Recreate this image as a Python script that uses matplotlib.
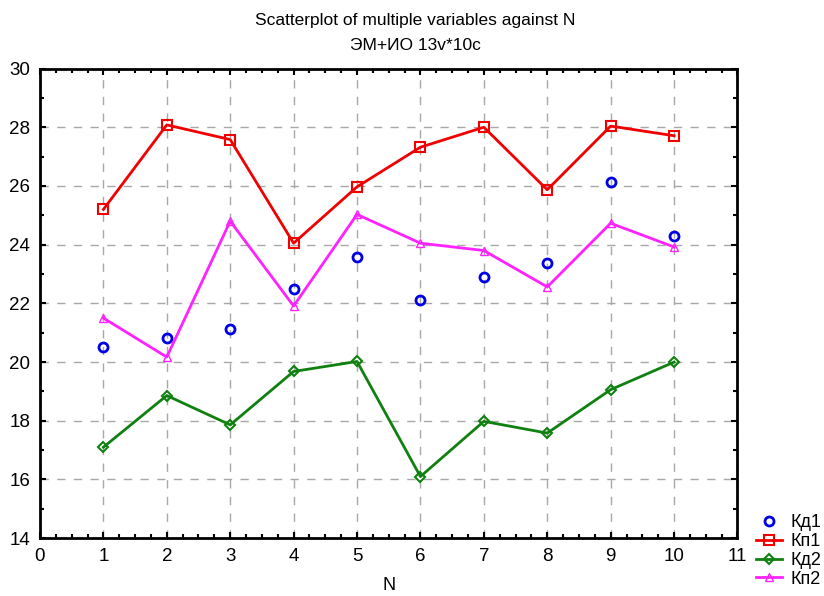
import numpy as np
import matplotlib.pyplot as plt
from matplotlib.ticker import MultipleLocator

plt.rcParams['font.family'] = ['Liberation Sans', 'DejaVu Sans']

# Datos
n = [1, 2, 3, 4, 5, 6, 7, 8, 9, 10]
kd1 = [20.51, 20.83, 21.14, 22.48, 23.58, 22.10, 22.90, 23.39, 26.12, 24.29]
kp1 = [25.20, 28.08, 27.58, 24.05, 25.97, 27.32, 28.00, 25.87, 28.04, 27.71]
kd2 = [17.10, 18.86, 17.86, 19.68, 20.02, 16.10, 17.98, 17.58, 19.06, 20.00]
kp2 = [21.50, 20.17, 24.80, 21.91, 25.03, 24.05, 23.80, 22.56, 24.73, 23.92]

fig = plt.figure(figsize=(8.24, 5.96), dpi=100)
ax = fig.add_axes([0.0485, 0.097, 0.8465, 0.788])

ax.plot(n, kd1, 'o', color='#0000e6', mfc='none', mew=2, ms=6.5, label='Кд1', zorder=3)
ax.plot(n, kp1, '-s', color='#f00000', mfc='none', mew=1.5, ms=7, lw=2, label='Кп1', zorder=3)
ax.plot(n, kd2, '-D', color='#108010', mfc='none', mew=1.5, ms=5.5, lw=2, label='Кд2', zorder=3)
ax.plot(n, kp2, '-^', color='#ff22ff', mfc='none', mew=1, ms=6, lw=2, label='Кп2', zorder=3)

ax.set_xlim(0, 11)
ax.set_ylim(14, 30)
ax.xaxis.set_major_locator(MultipleLocator(1))
ax.xaxis.set_minor_locator(MultipleLocator(0.25))
ax.yaxis.set_major_locator(MultipleLocator(2))
ax.yaxis.set_minor_locator(MultipleLocator(1))
ax.tick_params(which='both', direction='in', top=True, right=True, labelsize=13.5, width=1.5)
ax.tick_params(which='major', length=4, pad=7)
ax.tick_params(which='minor', length=3)
for s in ax.spines.values():
    s.set_linewidth(2)

ax.grid(True, which='major', color='#a8a8a8', linestyle=(0, (6, 6)), lw=1)
ax.set_axisbelow(True)

ax.set_xlabel('N', fontsize=13, labelpad=9)
fig.text(0.504, 0.966, 'Scatterplot of multiple variables against N', ha='center', va='center', fontsize=12.5)
fig.text(0.504, 0.923, 'ЭМ+ИО 13v*10c', ha='center', va='center', fontsize=12.5)

fig.legend(loc='lower left', bbox_to_anchor=(0.9175, 0.014), frameon=False, fontsize=13,
           handlelength=1.44, handletextpad=0.45, labelspacing=0.1, borderaxespad=0, borderpad=0)

fig.savefig('out.png', dpi=100)
